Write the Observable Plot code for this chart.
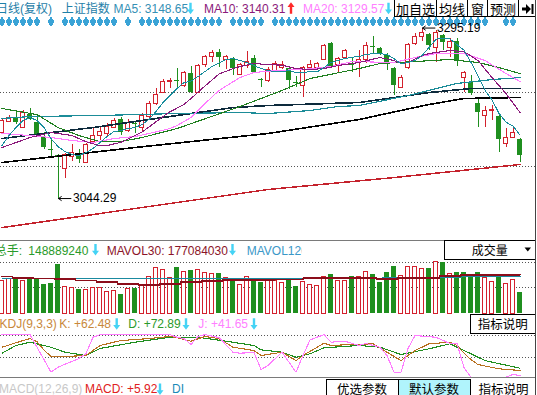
<!DOCTYPE html>
<html><head><meta charset="utf-8">
<script src="https://cdn.jsdelivr.net/npm/d3@7"></script>
<script src="https://cdn.jsdelivr.net/npm/@observablehq/plot@0.6"></script>
<style>
html,body{margin:0;padding:0;background:#fff;}
#root{position:relative;width:537px;height:395px;overflow:hidden;background:#fff;}
.pane{position:absolute;left:0;}
.pane svg{background:none !important;}
</style></head><body><div id="root"></div>
<script>
// ---------- data ----------
const open = [3141.4,3157.6,3163.5,3148.8,3167.9,3156.2,3134.1,3116.4,3107.6,3088.5,
3106.1,3107.6,3097.3,3128.2,3137.0,3140.0,3148.8,3160.6,3144.4,3154.7,
3148.8,3165.0,3184.1,3200.3,3216.5,3218.0,3210.6,3228.3,3200.3,3241.5,
3253.3,3259.2,3248.9,3250.3,3226.8,3240.0,3250.3,3219.4,3218.0,3232.7,
3237.1,3235.6,3215.0,3210.6,3237.1,3237.1,3248.9,3272.4,3241.5,3251.8,
3241.5,3245.9,3248.9,3268.0,3265.1,3254.8,3235.6,3207.7,3237.1,3272.4,
3282.7,3285.7,3266.5,3284.2,3266.5,3275.4,3222.4,3215.0,3184.1,3166.5,
3172.4,3165.0,3125.3,3134.1,3131.1];
const high = [3162.1,3166.5,3172.4,3173.8,3176.8,3163.5,3141.4,3129.7,3109.1,3110.5,
3123.8,3116.4,3125.3,3147.3,3148.8,3154.7,3162.1,3163.5,3160.6,3157.6,
3169.4,3187.1,3206.2,3219.4,3220.9,3235.6,3231.2,3238.6,3241.5,3254.8,
3262.1,3263.6,3254.8,3251.8,3243.0,3260.6,3254.8,3220.9,3237.1,3245.9,
3245.9,3237.1,3223.9,3238.6,3247.4,3244.5,3270.9,3273.9,3251.8,3263.6,
3251.8,3262.1,3273.9,3282.7,3266.5,3257.7,3237.1,3225.3,3272.4,3287.1,
3295.19,3287.1,3291.5,3285.7,3279.8,3279.8,3231.2,3225.3,3191.5,3179.7,
3181.2,3166.5,3147.3,3147.3,3132.6];
const low = [3138.5,3156.2,3153.2,3147.3,3159.1,3134.1,3116.4,3103.2,3044.29,3073.8,
3098.8,3095.8,3095.8,3126.7,3129.7,3134.1,3147.3,3137.0,3141.4,3140.0,
3141.4,3162.1,3181.2,3198.8,3206.2,3207.7,3207.7,3198.8,3198.8,3237.1,
3244.5,3237.1,3234.2,3225.3,3225.3,3235.6,3228.3,3207.7,3215.0,3229.7,
3234.2,3204.7,3207.7,3193.0,3234.2,3232.7,3247.4,3235.6,3228.3,3250.3,
3229.7,3222.4,3243.0,3257.7,3254.8,3232.7,3195.9,3206.2,3234.2,3269.5,
3275.4,3262.1,3244.5,3262.1,3251.8,3238.6,3200.3,3195.9,3148.8,3148.8,
3159.1,3112.0,3119.4,3132.6,3097.3];
const close = [3159.1,3163.5,3156.2,3170.9,3160.6,3138.5,3119.4,3115.0,3106.1,3109.1,
3112.0,3101.7,3123.8,3137.0,3142.9,3150.3,3159.1,3141.4,3156.2,3153.2,
3166.5,3182.7,3197.4,3216.5,3218.0,3216.5,3229.7,3200.3,3240.0,3253.3,
3259.2,3251.8,3253.3,3235.6,3241.5,3245.9,3229.7,3218.0,3234.2,3243.0,
3241.5,3218.0,3213.6,3237.1,3241.5,3243.0,3269.5,3237.1,3250.3,3262.1,
3240.0,3248.9,3269.5,3266.5,3257.7,3243.0,3210.6,3222.4,3270.9,3281.3,
3288.6,3269.5,3288.6,3273.9,3275.4,3245.9,3229.7,3198.8,3170.9,3172.4,
3175.3,3131.1,3134.1,3141.4,3107.6];
// volume (手)
const volume = [231e6,243e6,243e6,231e6,243e6,243e6,203e6,212e6,343e6,189e6,
182e6,168e6,168e6,182e6,180e6,154e6,161e6,133e6,173e6,177e6,
196e6,259e6,322e6,306e6,250e6,322e6,294e6,303e6,308e6,285e6,
278e6,280e6,250e6,243e6,201e6,259e6,243e6,217e6,231e6,226e6,
217e6,231e6,191e6,224e6,203e6,196e6,254e6,275e6,229e6,226e6,
257e6,259e6,294e6,273e6,217e6,289e6,329e6,264e6,324e6,327e6,
313e6,315e6,364e6,359e6,278e6,287e6,287e6,264e6,287e6,250e6,
224e6,254e6,210e6,233e6,148889240];
const volUp = [1,1,0,1,0,0,0,0,0,1, 1,0,1,1,1,1,1,0,1,0, 1,1,1,1,1,0,1,0,1,1,
1,0,1,0,1,1,0,0,1,1, 1,0,0,1,1,1,1,0,1,1, 0,1,1,0,0,0,0,1,1,1,
1,0,1,0,1,0,0,0,0,1, 1,0,1,1,0];
// info-mine markers per bar
const markers = [1,1,1,1,1,1,0,1,0,1, 1,1,1,1,1,1,1,0,1,0, 1,1,1,1,1,1,1,1,1,1,
1,1,0,1,1,1,1,1,0,1, 1,1,1,1,1,1,1,1,1,1, 1,1,1,1,1,1,1,1,1,1,
1,1,1,1,1,1,1,1,1,1, 0,0,1,1,0];

// moving averages (price panel)
const ma5 = [3122.3,3137.0,3148.8,3159.1,3163.5,3159.1,3148.8,3132.6,3120.8,3113.5,
3109.1,3107.6,3112.0,3117.9,3126.7,3135.6,3142.9,3144.4,3147.3,3148.8,
3153.2,3160.6,3172.5,3185.6,3195.9,3206.2,3215.0,3217.0,3223.9,3231.2,
3238.6,3243.5,3248.9,3250.3,3247.4,3244.5,3240.0,3235.6,3232.7,3231.2,
3231.2,3232.7,3229.7,3229.7,3231.2,3230.7,3237.1,3244.5,3247.4,3250.3,
3252.3,3253.3,3256.2,3257.7,3257.7,3256.2,3250.3,3242.5,3244.5,3247.4,
3254.8,3266.5,3278.8,3280.3,3279.2,3270.7,3262.7,3244.7,3224.1,3203.5,
3189.4,3169.7,3156.8,3150.9,3137.9];
const ma10Idx = [0,2,4,7,10,12,14,15,17,20,23,24,26,27,29,31,33,34,36,38,40,42,44,46,48,51,54,56,57,58,60,61,64,66,68,70,72,74];
const ma10 = [3119.4,3126.7,3134.1,3141.4,3137.0,3128.0,3122.0,3122.3,3127.0,3142.0,3165.0,3172.0,3182.7,3191.5,3210.0,3227.5,3235.6,3238.6,3243.0,3241.5,3240.5,3235.6,3234.2,3235.6,3240.0,3244.5,3251.8,3247.4,3243.0,3244.5,3254.5,3257.7,3262.1,3260.6,3247.4,3222.4,3198.8,3170.9];
const ma20Idx = [0,4,7,10,13,16,19,21,24,25,27,29,31,34,36,39,43,47,50,56,59,62,66,69,72,74];
const ma20 = [3140.0,3137.0,3134.1,3129.7,3126.7,3132.6,3135.6,3140.0,3147.3,3151.8,3163.5,3184.1,3203.3,3222.4,3229.7,3232.7,3234.2,3238.6,3245.9,3244.5,3251.8,3257.7,3257.7,3247.4,3228.3,3216.5];
const ma30Idx = [0,5,8,11,14,17,20,25,34,37,40,44,51,54,64,68,71,74];
const ma30 = [3176.8,3167.9,3148.8,3137.0,3128.2,3128.2,3134.1,3147.3,3179.7,3191.5,3203.3,3220.9,3235.6,3243.0,3248.9,3244.5,3237.1,3228.3];
const ma60Idx = [0,4,14,25,34,38,44,48,51,58,65,70,74];
const ma60 = [3162.1,3165.0,3166.5,3169.4,3170.9,3169.4,3173.8,3179.7,3181.2,3195.9,3213.6,3219.4,3222.4];
const ma120Idx = [0,13,24,33,38,51,61,67,74];
const ma120 = [3132.6,3148.8,3165.0,3178.2,3181.2,3185.6,3200.3,3206.2,3206.2];
const ma250Idx = [0,19,38,51,61,66,74];
const ma250 = [3097.3,3119.4,3140.0,3160.6,3182.7,3191.5,3193.0];
const ma500Idx = [0,19,38,56,74];
const ma500 = [3001.6,3029.6,3057.6,3075.2,3094.4];
const priceGrid = [3200.3, 3091.4];

// volume averages
const mavol30Idx = [0,3,6,9,12,15,18,21,24,27,30,33,37,41,45,49,52,55,58,61,64,67,70,74];
const mavol30 = [259e6,249e6,245e6,240e6,231e6,222e6,207e6,200e6,208e6,220e6,228e6,234e6,236e6,238e6,247e6,250e6,247e6,243e6,247e6,250e6,264e6,270e6,271e6,271e6];
const mavol120Idx = [0,13,38,50,60,74];
const mavol120 = [247e6,243e6,243e6,245e6,253e6,259e6];
const volGrid = [357e6, 182e6];

// KDJ
const kIdx = [0,3,4,5,6,7,9,12,14,17,21,24,25,27,29,31,33,36,37,40,42,43,46,47,49,53,55,57,59,61,64,65,66,67,68,71,74];
const kVal = [73.4,88.6,93,86,67,52.3,52.3,54.5,77.3,88.6,93,97.7,95,87,97.7,93,73.4,65.9,54.5,62,43,54.5,82.5,77.3,78.9,81.1,62,43,65.9,81.1,84.8,77.3,60,45,34,24.3,20.5];
const dIdx = [0,2,4,7,9,12,14,19,24,28,32,36,37,40,42,44,46,51,54,57,61,64,67,69,74];
const dVal = [59.8,77.3,84.8,73.4,62,54.5,70.5,84.8,96,96,87,77.3,67.5,62,50.7,58.4,72,77.3,73.4,56.8,69.8,81.1,58.4,43,25.7];
const jIdx = [0,4,7,8,11,12,13,14,24,25,26,27,28,29,31,33,34,36,37,38,40,42,43,44,46,47,49,51,52,54,55,56,57,58,59,62,64,65,66,67,72,73,74];
const jVal = [102,102,16.6,28,47.7,59,96,102,102,96,93,79.5,97.7,102,95.5,62,59.8,61.4,22.7,31.8,62,16.6,54.5,90,102,84.8,87,77.3,81.8,73.4,54.5,16.6,16.6,70.5,100,96,81.8,81.8,27,5,5,11.4,9];
const kdjGrid = [100, 50];

// header readouts
const hdrMA5 = "3148.65", hdrMA10 = "3140.31", hdrMA20 = "3129.57";
const hdrVol = "148889240", hdrMavol30 = "177084030";
const hdrK = "+62.48", hdrD = "+72.89", hdrJ = "+41.65", hdrMACD = "+5.92";

// ---------- drawing ----------
const W = 537;
const X_DOMAIN = [-0.2143, 76.5];
const Y_PRICE = [2985.5, 3312.2];
const PRICE_TOP = 16, PRICE_H = 222;
const RED = "#d3212d", GREEN = "#1f8f1f", MARK = "#3aa3d6";
const FONT = '"Liberation Sans","Noto Sans CJK SC",sans-serif';
const bars = d3.range(open.length).map(i => ({i, o: open[i], h: high[i], l: low[i], c: close[i], up: close[i] >= open[i], v: volume[i], vu: volUp[i] === 1, m: markers[i] === 1}));
const pts = (idx, vals) => idx.map((i, k) => ({i, v: vals[k]}));
const CR = "crispEdges";
const line = (data, color, w) => Plot.line(data, {x: "i", y: "v", stroke: color, strokeWidth: w, shapeRendering: CR});

function pane(top, height, yDomain, marks, marginBottom = 0) {
  const svg = Plot.plot({
    width: W, height, marginTop: 0, marginRight: 0, marginLeft: 0, marginBottom,
    x: {domain: X_DOMAIN, axis: null},
    y: {domain: yDomain, axis: null},
    style: "background:none;overflow:visible;",
    marks
  });
  const div = document.createElement("div");
  div.className = "pane";
  div.style.top = top + "px";
  div.appendChild(svg);
  document.getElementById("root").appendChild(div);
  return svg;
}

const hiI = d3.maxIndex(high), loI = d3.minIndex(low);
const ann = [{i: hiI, v: high[hiI]}, {i: loI, v: low[loI]}];

// marker band rows (page px) converted to price values of the price pane
const pxPrice = py => Y_PRICE[1] - (py - PRICE_TOP) * (Y_PRICE[1] - Y_PRICE[0]) / PRICE_H;
const mk = bars.filter(d => d.m);
const rhombusLayers = [[1 / 7, 17, 26], [2 / 7, 18.5, 24.5], [3 / 7, 20, 23]];

// price pane
pane(PRICE_TOP, PRICE_H, Y_PRICE, [
  Plot.ruleY(priceGrid, {stroke: "#555", strokeDasharray: "1,2", shapeRendering: CR}),
  ...rhombusLayers.map(([hw, t, b]) =>
    Plot.rect(mk, {x1: d => d.i - hw, x2: d => d.i + hw, y1: () => pxPrice(b), y2: () => pxPrice(t), fill: MARK, shapeRendering: CR})),
  Plot.ruleX(bars.filter(d => d.up), {x: "i", y1: "l", y2: "h", stroke: RED, shapeRendering: CR}),
  Plot.ruleX(bars.filter(d => !d.up), {x: "i", y1: "l", y2: "h", stroke: GREEN, shapeRendering: CR}),
  Plot.rect(bars.filter(d => d.up), {x1: d => d.i - 0.2857, x2: d => d.i + 0.2857, y1: "o", y2: "c", fill: "white", stroke: RED, shapeRendering: CR}),
  Plot.rect(bars.filter(d => !d.up), {x1: d => d.i - 0.357, x2: d => d.i + 0.357, y1: "o", y2: "c", fill: GREEN, shapeRendering: CR}),
  line(pts(ma500Idx, ma500), "#c4212b", 1.5),
  line(pts(ma250Idx, ma250), "#000000", 1.6),
  line(pts(ma120Idx, ma120), "#0d2a3c", 1.6),
  line(pts(ma60Idx, ma60), "#1b8c98", 1.2),
  line(pts(ma30Idx, ma30), "#1f7f1f", 1.1),
  line(pts(ma20Idx, ma20), "#ff7cff", 1.1),
  line(pts(ma10Idx, ma10), "#8b1a7b", 1.1),
  line(pts(d3.range(ma5.length), ma5), "#178c9c", 1),
  Plot.arrow(ann, {x1: d => d.i + 1.85, x2: d => d.i + 0.08, y1: "v", y2: "v", stroke: "#000", strokeWidth: 1, headLength: 5, headAngle: 70}),
  Plot.text(ann, {x: "i", y: "v", text: d => d.v.toFixed(2), dx: 15, textAnchor: "start", fontSize: 12, fill: "#000", fontFamily: FONT})
]);

// volume pane
pane(258, 56, [0, 385e6], [
  Plot.ruleY(volGrid, {stroke: "#555", strokeDasharray: "1,2", shapeRendering: CR}),
  Plot.rect(bars.filter(d => d.vu), {x1: d => d.i - 0.2857, x2: d => d.i + 0.2857, y1: 0, y2: "v", fill: "white", stroke: RED, shapeRendering: CR}),
  Plot.rect(bars.filter(d => !d.vu), {x1: d => d.i - 0.357, x2: d => d.i + 0.357, y1: 0, y2: "v", fill: GREEN, shapeRendering: CR}),
  Plot.line(pts(mavol120Idx, mavol120), {x: "i", y: "v", stroke: "#1a8aa0", strokeWidth: 1, shapeRendering: CR}),
  Plot.line(pts(mavol30Idx, mavol30), {x: "i", y: "v", stroke: "#8b0d1a", strokeWidth: 1.5, curve: "step", shapeRendering: CR})
], 1);

// KDJ pane
pane(333, 45, [2.27, 104.55], [
  Plot.ruleY(kdjGrid, {stroke: "#555", strokeDasharray: "1,2", shapeRendering: CR}),
  line(pts(dIdx, dVal), "#1f8f1f", 1.1),
  line(pts(kIdx, kVal), "#b8701f", 1.1),
  line(pts(jIdx, jVal), "#ff7cff", 1.1)
]);

// ---------- overlay: headers, buttons, separators ----------
const ov = d3.select("#root").append("svg")
  .attr("width", 537).attr("height", 395)
  .style("position", "absolute").style("left", 0).style("top", 0).style("z-index", 5);
const defs = ov.append("defs");
defs.append("clipPath").attr("id", "clipVol").append("rect").attr("x", 0).attr("y", 238).attr("width", 302).attr("height", 20);

function T(x, y, s, fill, size = 12, anchor = "start", parent = ov) {
  return parent.append("text").attr("x", x).attr("y", y).attr("fill", fill)
    .attr("font-size", size).attr("text-anchor", anchor).attr("font-family", FONT).text(s);
}
function down(cx, top, c = "#45d3f5") {
  ov.append("path").attr("fill", c)
    .attr("d", `M${cx - 1.2},${top} h2.4 v6.8 h2.3 l-3.5,4.7 l-3.5,-4.7 h2.3 z`);
}
function up(cx, top, c = "#ff2a2a") {
  ov.append("path").attr("fill", c)
    .attr("d", `M${cx},${top} l3.5,4.7 h-2.3 v6.8 h-2.4 v-6.8 h-2.3 z`);
}
function line2(x1, y1, x2, y2, c) {
  ov.append("line").attr("x1", x1).attr("y1", y1).attr("x2", x2).attr("y2", y2).attr("stroke", c).attr("shape-rendering", "crispEdges");
}
function box(x0, y0, x1, y1, fill = "#fff") {
  ov.append("rect").attr("x", x0 + 0.5).attr("y", y0 + 0.5).attr("width", x1 - x0).attr("height", y1 - y0)
    .attr("fill", fill).attr("stroke", "#000").attr("shape-rendering", "crispEdges");
}

// separators
line2(0, 240.5, 536, 240.5, "#7a7a7a");
line2(0, 377.5, 536, 377.5, "#7a7a7a");

// top header
T(-4, 12.5, "日线(复权)", "#1f80a8");
T(61.7, 12.5, "上证指数", "#1f80a8");
T(113.5, 12.5, "MA5: " + hdrMA5, "#3590b5"); down(190.5, 2.8);
T(204, 12.5, "MA10: " + hdrMA10, "#8b1a7b"); up(291, 2.3);
T(303, 12.5, "MA20: " + hdrMA20, "#ff80ff"); down(388.5, 2.8);
[["加自选", 394, 436], ["均线", 436, 467], ["窗", 467, 487], ["预测", 487, 518]].forEach(([s, a, b]) => {
  box(a, -1, b, 16);
  T((a + b) / 2 + 0.5, 13.5, s, "#000", 13, "middle");
});
box(518, -1, 535, 16);
ov.append("path").attr("fill", "#000").attr("d", "M522,7.5 h4 v-3.5 l5,5 l-5,5 v-3.5 h-4 z M531.5,4 h2 v10 h-2 z");

// volume header
T(-5.3, 254.5, "总手:", "#2a9a2a");
T(28.3, 254.5, hdrVol, "#2a9a2a"); down(95.5, 244);
T(106.7, 254.5, "MAVOL30: " + hdrMavol30, "#8b1428"); down(232.5, 244);
T(246.7, 254.5, "MAVOL120", "#3a98c8").attr("clip-path", "url(#clipVol)");
box(444, 240, 535, 258.5);
T(471.7, 255.3, "成交量", "#000", 12);
ov.append("path").attr("fill", "#000").attr("d", "M524.5,247.5 h6.5 l-3.25,4 z");

// KDJ header
T(-0.5, 328, "KDJ(9,3,3)", "#c8883a");
T(59.3, 328, "K: " + hdrK, "#c8883a"); down(116.7, 318.3);
T(128.3, 328, "D: " + hdrD, "#2a9a2a"); down(186, 318.3);
T(198.3, 328, "J: " + hdrJ, "#ff80ff"); down(254, 318.3);
box(470, 314, 535, 332.5);
T(502.8, 329.3, "指标说明", "#000", 12.5, "middle");

// MACD header
T(-1, 393.3, "MACD(12,26,9)", "#c8c8c8");
T(85, 393.3, "MACD: " + hdrMACD, "#e02020"); down(160, 383.5);
T(172, 393.3, "DI", "#1a8ab8");
box(326, 379, 398, 400);
box(398, 379, 470, 400, "#b0f4fc");
T(362, 394.3, "优选参数", "#000", 12.5, "middle");
T(434, 394.3, "默认参数", "#000", 12.5, "middle");
T(503.5, 394.3, "指标说明", "#000", 12.5, "middle");

// right border
line2(535.5, 0, 535.5, 395, "#444");
</script></body></html>
